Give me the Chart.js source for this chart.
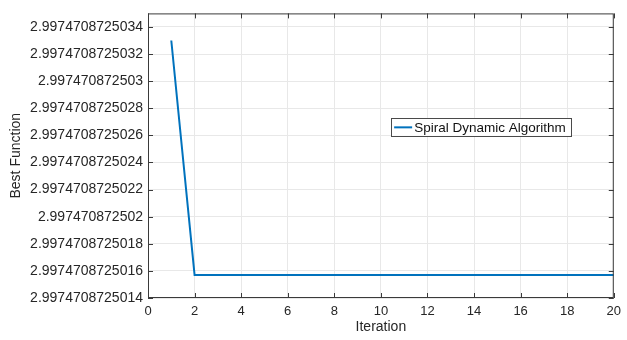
<!DOCTYPE html>
<html>
<head>
<meta charset="utf-8">
<script src="https://cdn.jsdelivr.net/npm/chart.js@4.4.0/dist/chart.umd.min.js"></script>
<style>
  html, body { margin: 0; padding: 0; background: #fff; }
  #wrap { width: 627px; height: 340px; }
</style>
</head>
<body>
<div id="wrap"><canvas id="fitness-chart"></canvas></div>
<script>
const iterations = [1, 2, 3, 4, 5, 6, 7, 8, 9, 10, 11, 12, 13, 14, 15, 16, 17, 18, 19, 20];
const bestFunction = [
    2.9974708725033, 2.99747087250157, 2.99747087250157, 2.99747087250157, 2.99747087250157,
    2.99747087250157, 2.99747087250157, 2.99747087250157, 2.99747087250157, 2.99747087250157,
    2.99747087250157, 2.99747087250157, 2.99747087250157, 2.99747087250157, 2.99747087250157,
    2.99747087250157, 2.99747087250157, 2.99747087250157, 2.99747087250157, 2.99747087250157
];
const yTickValues = [
    2.9974708725014, 2.9974708725016, 2.9974708725018, 2.997470872502, 2.9974708725022,
    2.9974708725024, 2.9974708725026, 2.9974708725028, 2.997470872503, 2.9974708725032,
    2.9974708725034
];
const yTickLabels = [
    '2.9974708725014', '2.9974708725016', '2.9974708725018', '2.997470872502', '2.9974708725022',
    '2.9974708725024', '2.9974708725026', '2.9974708725028', '2.997470872503', '2.9974708725032',
    '2.9974708725034'
];
const xTicks = [0, 2, 4, 6, 8, 10, 12, 14, 16, 18, 20];
const seriesName = 'Spiral Dynamic Algorithm';

const FONT = "'Liberation Sans', Arial, sans-serif";
const LINE_COLOR = '#0072bd';
const AXIS_COLOR = '#3a3a3a';
const TEXT_COLOR = '#262626';

// box + inward tick marks, matlab style
const boxPlugin = {
    id: 'box',
    afterDraw(chart) {
        const { ctx, chartArea: a, scales } = chart;
        ctx.save();
        ctx.strokeStyle = AXIS_COLOR;
        ctx.lineWidth = 1;
        ctx.strokeRect(a.left + 0.5, a.top + 0.5, a.right - a.left - 1, a.bottom - a.top - 1);
        ctx.beginPath();
        xTicks.forEach(v => {
            const x = Math.round(scales.x.getPixelForValue(v)) + 0.5;
            ctx.moveTo(x, a.bottom); ctx.lineTo(x, a.bottom - 5);
            ctx.moveTo(x, a.top); ctx.lineTo(x, a.top + 5);
        });
        yTickValues.forEach(v => {
            const y = Math.round(scales.y.getPixelForValue(v)) + 0.5;
            ctx.moveTo(a.left, y); ctx.lineTo(a.left + 5, y);
            ctx.moveTo(a.right, y); ctx.lineTo(a.right - 5, y);
        });
        ctx.stroke();
        ctx.restore();
    }
};

// legend box floating inside the axes
const floatLegend = {
    id: 'floatLegend',
    afterDraw(chart) {
        const { ctx, chartArea: a } = chart;
        const ds = chart.data.datasets[0];
        const bx = a.left + (a.right - a.left) * 0.522;
        const by = a.top + (a.bottom - a.top) * 0.367;
        ctx.save();
        ctx.font = '13.5px ' + FONT;
        const tw = ctx.measureText(ds.label).width;
        const w = tw + 28, h = 18;
        ctx.fillStyle = '#fff';
        ctx.fillRect(bx, by, w, h);
        ctx.strokeStyle = '#4a4a4a';
        ctx.lineWidth = 1;
        ctx.strokeRect(Math.round(bx) + 0.5, Math.round(by) + 0.5, Math.round(w), h);
        ctx.strokeStyle = ds.borderColor;
        ctx.lineWidth = 2;
        ctx.beginPath();
        ctx.moveTo(bx + 3, by + h / 2 + 0.5);
        ctx.lineTo(bx + 21, by + h / 2 + 0.5);
        ctx.stroke();
        ctx.fillStyle = '#111';
        ctx.textBaseline = 'middle';
        ctx.fillText(ds.label, bx + 23, by + h / 2 + 1);
        ctx.restore();
    }
};

new Chart(document.getElementById('fitness-chart'), {
    type: 'line',
    data: {
        datasets: [{
            label: seriesName,
            data: iterations.map((it, i) => ({ x: it, y: bestFunction[i] })),
            borderColor: LINE_COLOR,
            borderWidth: 2,
            pointRadius: 0,
            tension: 0,
            fill: false
        }]
    },
    options: {
        responsive: true,
        maintainAspectRatio: false,
        animation: false,
        layout: { padding: { top: 9, right: 9, left: 0, bottom: 0 } },
        plugins: {
            legend: { display: false },
            tooltip: { enabled: false }
        },
        scales: {
            x: {
                type: 'linear',
                min: 0,
                max: 20,
                afterBuildTicks: s => { s.ticks = xTicks.map(v => ({ value: v })); },
                afterFit: s => { s.height = 42; },
                grid: { color: '#e8e8e8', drawTicks: false },
                border: { display: false },
                ticks: {
                    padding: 6,
                    color: TEXT_COLOR,
                    font: { family: FONT, size: 13 },
                    maxRotation: 0
                },
                title: {
                    display: true,
                    text: 'Iteration',
                    color: TEXT_COLOR,
                    font: { family: FONT, size: 14 },
                    padding: { top: 0, bottom: 4 }
                }
            },
            y: {
                type: 'linear',
                min: 2.9974708725014,
                max: 2.9974708725035,
                afterBuildTicks: s => { s.ticks = yTickValues.map(v => ({ value: v })); },
                afterFit: s => { s.width = 148; },
                grid: { color: '#e8e8e8', drawTicks: false },
                border: { display: false },
                ticks: {
                    padding: 5,
                    color: TEXT_COLOR,
                    font: { family: FONT, size: 14 },
                    callback: (v, i) => yTickLabels[i]
                },
                title: {
                    display: true,
                    text: 'Best Function',
                    color: TEXT_COLOR,
                    font: { family: FONT, size: 14 },
                    padding: { top: 8, bottom: 0 }
                }
            }
        }
    },
    plugins: [boxPlugin, floatLegend]
});
</script>
</body>
</html>
